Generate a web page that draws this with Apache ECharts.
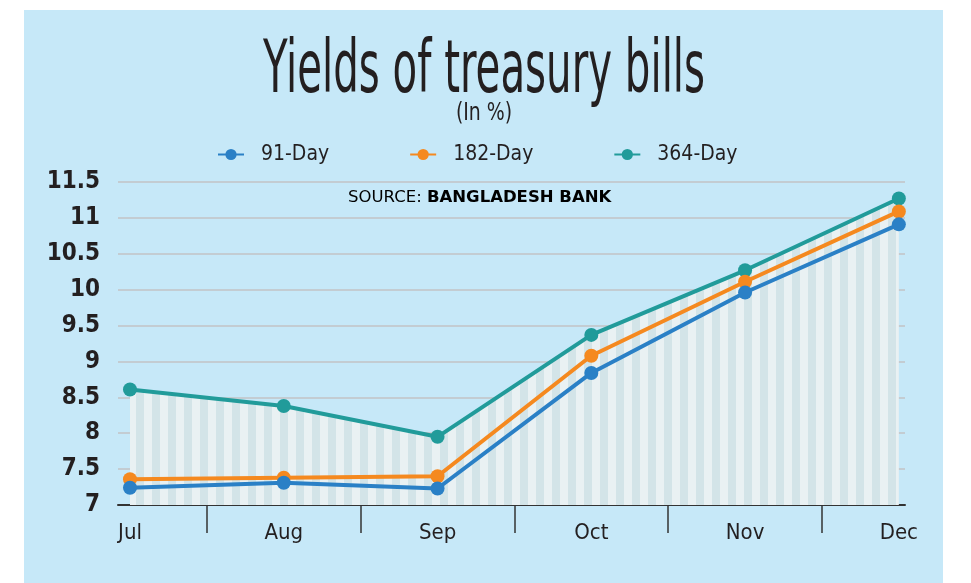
<!DOCTYPE html>
<html>
<head>
<meta charset="utf-8">
<script src="https://cdn.jsdelivr.net/npm/echarts@6/dist/echarts.min.js"></script>
<style>
  html, body { margin: 0; padding: 0; background: #fff; }
  #chart { width: 971px; height: 583px; }
</style>
</head>
<body>
<div id="chart"></div>
<script>
// values (in %)
const months = ['Jul', 'Aug', 'Sep', 'Oct', 'Nov', 'Dec']
const day91 = [7.24, 7.31, 7.23, 8.84, 9.96, 10.91]
const day182 = [7.36, 7.38, 7.40, 9.08, 10.11, 11.09]
const day364 = [8.61, 8.38, 7.95, 9.37, 10.27, 11.27]
const seriesNames = ['91-Day', '182-Day', '364-Day']

const narrow = '"Liberation Sans Narrow", "DejaVu Sans Condensed", sans-serif'
const ink = '#231f20'
const colors = ['#2a80c6', '#f5891f', '#219b9a']

// vertical stripes under the 364-Day line
const stripe = document.createElement('canvas')
stripe.width = 16
stripe.height = 4
const sctx = stripe.getContext('2d')
sctx.fillStyle = '#d3e4e8'
sctx.fillRect(0, 0, 16, 4)
sctx.fillStyle = '#e9f1f3'
sctx.fillRect(0, 0, 8, 4)

const toPoints = arr => arr.map((v, i) => [i, v])

const chart = echarts.init(document.getElementById('chart'))

const makeSeries = (name, values, idx, extra) => Object.assign({
  name: name,
  type: 'line',
  data: toPoints(values),
  symbol: 'circle',
  symbolSize: 14,
  lineStyle: { width: 4, color: colors[idx] },
  itemStyle: { color: colors[idx] },
  z: 4 - idx
}, extra || {})

const option = {
  animation: false,
  backgroundColor: '#fff',
  graphic: [
    {
      type: 'rect',
      z: -10,
      silent: true,
      shape: { x: 24, y: 10, width: 919, height: 573 },
      style: { fill: '#c6e8f8' }
    },
    {
      type: 'text',
      x: 484,
      y: 37,
      scaleX: 0.8,
      scaleY: 1.3,
      style: {
        text: 'Yields of treasury bills',
        font: '56px ' + narrow,
        fill: ink,
        align: 'center',
        verticalAlign: 'top'
      }
    },
    {
      type: 'text',
      x: 484,
      y: 101,
      scaleY: 1.2,
      style: {
        text: '(In %)',
        font: '21px ' + narrow,
        fill: ink,
        align: 'center',
        verticalAlign: 'top'
      }
    },
    {
      type: 'text',
      x: 348,
      y: 198,
      style: {
        text: '{n|SOURCE: }{b|BANGLADESH BANK}',
        verticalAlign: 'middle',
        rich: {
          n: { fontFamily: '"DejaVu Sans"', fontSize: 16.5, color: '#2b2b2b' },
          b: { fontFamily: '"DejaVu Sans"', fontSize: 16.5, fontWeight: 'bold', color: ink }
        }
      }
    }
  ],
  legend: {
    data: seriesNames,
    left: 217,
    top: 144,
    padding: 0,
    itemWidth: 26,
    itemHeight: 14,
    itemGap: 80,
    textStyle: {
      fontFamily: narrow,
      fontSize: 21,
      color: ink,
      padding: [0, 0, 0, 12]
    }
  },
  grid: {
    left: 118,
    right: 66,
    top: 182,
    bottom: 78,
    containLabel: false
  },
  xAxis: {
    type: 'value',
    min: -0.078,
    max: 5.04,
    axisLine: { show: true, lineStyle: { color: '#333', width: 2 } },
    axisTick: {
      show: true,
      customValues: [0.5, 1.5, 2.5, 3.5, 4.5],
      length: 28,
      lineStyle: { color: '#333', width: 1.5 }
    },
    axisLabel: {
      customValues: [0, 1, 2, 3, 4, 5],
      formatter: v => months[Math.round(v)],
      fontFamily: narrow,
      fontSize: 22,
      color: ink,
      margin: 17
    },
    splitLine: { show: false }
  },
  yAxis: {
    type: 'value',
    min: 7,
    max: 11.5,
    interval: 0.5,
    axisLine: { show: false },
    axisTick: { show: false },
    axisLabel: {
      fontFamily: narrow,
      fontSize: 24,
      fontWeight: 'bold',
      color: ink,
      margin: 18
    },
    splitLine: { lineStyle: { color: '#c3ccd2', width: 2 } }
  },
  series: [
    makeSeries(seriesNames[0], day91, 0),
    makeSeries(seriesNames[1], day182, 1),
    makeSeries(seriesNames[2], day364, 2, {
      areaStyle: { color: { image: stripe, repeat: 'repeat' }, opacity: 1, origin: 'start' }
    })
  ]
}

chart.setOption(option)
</script>
</body>
</html>
